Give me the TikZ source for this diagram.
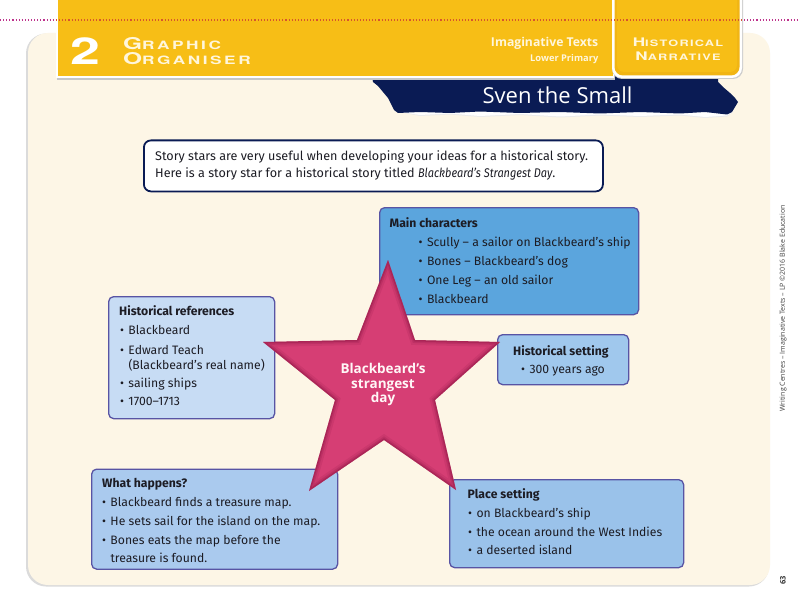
\documentclass[tikz,border=0pt]{standalone}
\usepackage{fontspec}
\setmainfont{Open Sans}
\newfontfamily\bodyfont[ItalicFeatures={FakeStretch=0.87}]{Fira Sans}
\newfontfamily\headfontA[FakeStretch=1.5,LetterSpace=22]{TeX Gyre Heros}
\newfontfamily\headfontB[FakeStretch=1.45,LetterSpace=14]{TeX Gyre Heros}
\newfontfamily\bigtwo[FakeStretch=1.45]{TeX Gyre Heros}
\definecolor{cream}{RGB}{253,246,230}
\definecolor{hdryellow}{RGB}{247,190,22}
\definecolor{tabyellow}{RGB}{241,181,20}
\definecolor{navy}{RGB}{10,27,84}
\definecolor{boxborder}{RGB}{88,84,164}
\definecolor{mcfill}{RGB}{91,165,221}
\definecolor{hrfill}{RGB}{199,220,244}
\definecolor{hsfill}{RGB}{160,200,237}
\definecolor{whfill}{RGB}{170,202,238}
\definecolor{psfill}{RGB}{154,194,234}
\definecolor{starcol}{RGB}{214,62,116}
\definecolor{stardark}{RGB}{130,15,60}
\definecolor{textcol}{RGB}{28,28,36}
\definecolor{magdot}{RGB}{190,50,140}
\definecolor{orgdot}{RGB}{215,85,45}
\definecolor{hdrtext}{RGB}{255,246,220}
\newcommand{\bul}{\makebox[8.3pt][l]{•}}
\begin{document}
\begin{tikzpicture}[x=1pt,y=-1pt,
  box/.style={draw=boxborder, line width=1.3pt, rounded corners=5pt, anchor=north west, inner sep=0pt},
  ttl/.style={anchor=base west, inner sep=0pt, font=\bodyfont\fontsize{12.2}{13}\selectfont\bfseries, text=textcol},
  itm/.style={anchor=base west, inner sep=0pt, font=\bodyfont\fontsize{12.2}{13}\selectfont, text=textcol},
  introtxt/.style={anchor=base west, inner sep=0pt, font=\bodyfont\fontsize{12.6}{13}\selectfont, text=textcol},
  startxt/.style={anchor=base, inner sep=0pt, font=\fontsize{13.5}{15}\selectfont\bfseries, text=white!88!pink},
  dots/.style={line width=1.1pt, dash pattern=on 1.1pt off 2pt}]
\useasboundingbox (0,0) rectangle (800,615);
\fill[white] (0,0) rectangle (800,615);
% cream panel
\fill[black!14, rounded corners=20pt] (26,33.5) rectangle (769,586.5);
\fill[cream, rounded corners=20pt] (28,33) rectangle (770,585);
% dotted line (outside)
\draw[magdot, dots] (0,20) -- (800,20);
% torn banner
\fill[white!92!black] (394,111) -- (420,116) -- (450,114.5) -- (480,117) -- (520,115) -- (560,117.5) -- (600,115.5) -- (640,117) -- (680,115.5) -- (705,118) -- (727,116.5) -- (733,112) -- cycle;
\fill[white] (394,111) -- (420,115) -- (450,113.5) -- (480,116) -- (520,114) -- (560,116.5) -- (600,114.5) -- (640,116) -- (680,114.5) -- (705,117) -- (727,115.5) -- (733,112) -- cycle;
\fill[navy] (372,76) -- (373,82) -- (378,86) -- (383,92) -- (388,98) -- (391,104) -- (394,110) -- (398,113)
  -- (420,112) -- (450,113) -- (480,111.5) -- (520,113) -- (560,112) -- (600,113.5) -- (640,112) -- (680,113.5) -- (705,112) -- (727,114.5)
  -- (732,112) -- (735,107) -- (738,102) -- (735,98) -- (730,93) -- (723,87) -- (718,82) -- (718,76) -- cycle;
% header yellow block
\fill[black!22] (57,0) rectangle (615,80.5);
\fill[white] (55.5,0) rectangle (614,78.5);
\fill[hdryellow] (57.5,0) rectangle (613,76.5);
% tab
\fill[black!20, rounded corners=10pt] (612,-12) rectangle (743,79);
\fill[white, rounded corners=10pt] (612,-12) rectangle (742,78);
\fill[tabyellow, rounded corners=8.5pt] (614.5,-12) rectangle (739.5,75.5);
\fill[hdryellow, rounded corners=7pt] (617,-12) rectangle (737,72);
% dotted line over header
\draw[orgdot, dots] (56,20) -- (742,20);
% header texts
\node[anchor=base west, inner sep=0pt, text=white, font=\bigtwo\bfseries\fontsize{37}{37}\selectfont] (two) at (70.5,65) {2};
\node[anchor=base west, inner sep=0pt, text=hdrtext, font=\headfontA\bfseries] (graphic) at (123,50) {{\fontsize{16.3}{16}\selectfont G}{\fontsize{11.5}{11}\selectfont RAPHIC}};
\node[anchor=base west, inner sep=0pt, text=hdrtext, font=\headfontA\bfseries] (organiser) at (123,65) {{\fontsize{16.3}{16}\selectfont O}{\fontsize{11.5}{11}\selectfont RGANISER}};
\node[anchor=base east, inner sep=0pt, text=hdrtext, font=\fontsize{12.2}{12}\selectfont\bfseries] (imag) at (598.5,47) {Imaginative Texts};
\node[anchor=base east, inner sep=0pt, text=hdrtext, font=\fontsize{9.3}{10}\selectfont\bfseries] (lowprim) at (598.5,62) {Lower Primary};
\node[anchor=base, inner sep=0pt, text=hdrtext, font=\headfontB\bfseries] (hist) at (678,46.7) {{\fontsize{11.8}{12}\selectfont H}{\fontsize{8.8}{9}\selectfont ISTORICAL}};
\node[anchor=base, inner sep=0pt, text=hdrtext, font=\headfontB\bfseries] (narr) at (678,60.5) {{\fontsize{11.8}{12}\selectfont N}{\fontsize{8.8}{9}\selectfont ARRATIVE}};
\node[anchor=base, inner sep=0pt, text=white, font=\fontsize{22}{22}\selectfont] (sven) at (557.5,104) {Sven the Small};
% intro box
\node[draw=navy, line width=1.8pt, rounded corners=7pt, fill=white, anchor=north west, inner sep=0pt, minimum width=459pt, minimum height=51pt] (intro) at (143,139.5) {};
\node[introtxt] (intro1) at (155,160) {Story stars are very useful when developing your ideas for a historical story.};
\node[introtxt] (intro2) at (155,177.7) {Here is a story star for a historical story titled \textit{Blackbeard’s Strangest Day}.};
% boxes
\node[box, fill=mcfill, minimum width=259pt, minimum height=107pt] (mcbox) at (379,207) {};
\node[ttl] (mct) at (389.5,227) {Main characters};
\node[itm] (mc1) at (418.5,246) {\bul Scully – a sailor on Blackbeard’s ship};
\node[itm] (mc2) at (418.5,265) {\bul Bones – Blackbeard’s dog};
\node[itm] (mc3) at (418.5,284) {\bul One Leg – an old sailor};
\node[itm] (mc4) at (418.5,303) {\bul Blackbeard};
\node[box, fill=hrfill, minimum width=166pt, minimum height=122pt] (hrbox) at (108,296) {};
\node[ttl] (hrt) at (119,315) {Historical references};
\node[itm] (hr1) at (120,334) {\bul Blackbeard};
\node[itm] (hr2) at (120,354) {\bul Edward Teach};
\node[itm] (hr2b) at (128.3,369.5) {(Blackbeard’s real name)};
\node[itm] (hr3) at (120,387) {\bul sailing ships};
\node[itm] (hr4) at (120,405.5) {\bul 1700–1713};
\node[box, fill=hsfill, minimum width=131pt, minimum height=50pt] (hsbox) at (497,334) {};
\node[ttl] (hst) at (513,355) {Historical setting};
\node[itm] (hs1) at (521,373.5) {\bul 300 years ago};
\node[box, fill=whfill, minimum width=246pt, minimum height=100pt] (whbox) at (91,468.5) {};
\node[ttl] (wht) at (102,487.5) {What happens?};
\node[itm] (wh1) at (102,506.5) {\bul Blackbeard finds a treasure map.};
\node[itm] (wh2) at (102,525.5) {\bul He sets sail for the island on the map.};
\node[itm] (wh3) at (102,544) {\bul Bones eats the map before the};
\node[itm] (wh3b) at (110.3,562) {treasure is found.};
\node[box, fill=psfill, minimum width=234pt, minimum height=88pt] (psbox) at (449,479) {};
\node[ttl] (pst) at (467.5,498.5) {Place setting};
\node[itm] (ps1) at (468,517.5) {\bul on Blackbeard’s ship};
\node[itm] (ps2) at (468,536) {\bul the ocean around the West Indies};
\node[itm] (ps3) at (468,554.5) {\bul a deserted island};
% star
\def\starpath{(388,260) -- (415,340) -- (500,342) -- (435,400) -- (456,490) -- (384,440) -- (309,491) -- (335,400) -- (263,342) -- (357,340) -- cycle}
\fill[starcol] \starpath;
\begin{scope}
\clip \starpath;
\draw[stardark, line width=10pt, opacity=0.12, line join=miter] \starpath;
\draw[stardark, line width=6pt, opacity=0.18, line join=miter] \starpath;
\draw[stardark, line width=3pt, opacity=0.3, line join=miter] \starpath;
\end{scope}
\node[startxt] (s1) at (383,373.5) {Blackbeard’s};
\node[startxt] (s2) at (383,388) {strangest};
\node[startxt] (s3) at (383,402) {day};
% right margin
\node[anchor=center, inner sep=0pt, rotate=90, text=black!75, font=\fontsize{7}{8}\selectfont] (credit) at (783,308.5) {Writing Centres – Imaginative Texts – LP ©2016 Blake Education};
\node[anchor=center, inner sep=0pt, rotate=90, text=black!80, font=\fontsize{7.5}{8}\selectfont\bfseries] (page) at (783,580) {63};
\end{tikzpicture}
\end{document}
